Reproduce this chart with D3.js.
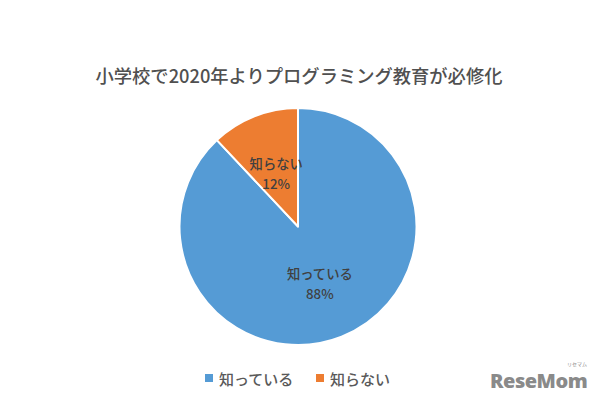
<!DOCTYPE html>
<html><head><meta charset="utf-8">
<script src="https://cdn.jsdelivr.net/npm/d3@7"></script>
<style>body{margin:0;background:#fff}svg{display:block}</style>
</head><body>
<svg id="c" width="600" height="400"></svg>
<script>
const title = "小学校で2020年よりプログラミング教育が必修化";
const categories = ["知っている", "知らない"];
const values = [88, 12];
const colors = ["#559BD5", "#ED7D31"];

const svg = d3.select("#c");
const font = "'Noto Sans CJK JP', 'Noto Sans', sans-serif";
const cx = 298, cy = 226.5, r = 118.5;

svg.append("rect").attr("width",600).attr("height",400).attr("fill","#fff");

svg.append("text").attr("x", 299).attr("y", 75)
  .attr("text-anchor","middle").attr("dominant-baseline","central")
  .attr("font-family", font).attr("font-size", 18.3).attr("font-weight", 500).attr("fill","#505050")
  .text(title);

const color = d3.scaleOrdinal().domain(categories).range(colors);
const pie = d3.pie().sort(null).value(d => d.v);
const data = categories.map((c,i) => ({c, v: values[i]}));
const arcs = pie(data);
const arc = d3.arc().innerRadius(0).outerRadius(r);
const g = svg.append("g").attr("transform", `translate(${cx},${cy})`);
g.selectAll("path").data(arcs).join("path")
  .attr("d", arc).attr("fill", d => color(d.data.c))
  .attr("stroke","#fff").attr("stroke-width",2).attr("stroke-linejoin","round");

const total = d3.sum(values);
const lab = g.selectAll("g.lab").data(arcs).join("g").attr("class","lab")
  .attr("transform", d => `translate(${arc.centroid(d)})`);
lab.append("text").attr("text-anchor","middle").attr("dominant-baseline","central")
  .attr("y", -8).attr("font-family", font).attr("font-size", 13.3).attr("font-weight", 500)
  .attr("fill","#404040").text(d => d.data.c);
lab.append("text").attr("text-anchor","middle").attr("dominant-baseline","central")
  .attr("y", 12).attr("font-family", font).attr("font-size", 13.3).attr("font-weight", 500)
  .attr("fill","#404040").text(d => Math.round(d.data.v / total * 100) + "%");

// legend
const legX = [205, 316];
const leg = svg.selectAll("g.leg").data(categories).join("g").attr("class","leg")
  .attr("transform", (d,i) => `translate(${legX[i]},378)`);
leg.append("rect").attr("x",0).attr("y",-4).attr("width",8).attr("height",8).attr("fill", d => color(d));
leg.append("text").attr("x",14).attr("y",0).attr("dominant-baseline","central")
  .attr("font-family", font).attr("font-size", 15).attr("font-weight", 500)
  .attr("fill","#595959").text(d => d);

// watermark
svg.append("text").attr("x", 490).attr("y", 388).attr("font-family", "'Open Sans', sans-serif")
  .attr("font-weight", 800).attr("font-size", 20).attr("fill","#8a8a8a").attr("letter-spacing", -0.5)
  .text("ReseMom");
svg.append("text").attr("x", 567).attr("y", 366).attr("font-family", font)
  .attr("font-size", 5).attr("fill","#8a8a8a").text("リセマム");
</script>
</body></html>
